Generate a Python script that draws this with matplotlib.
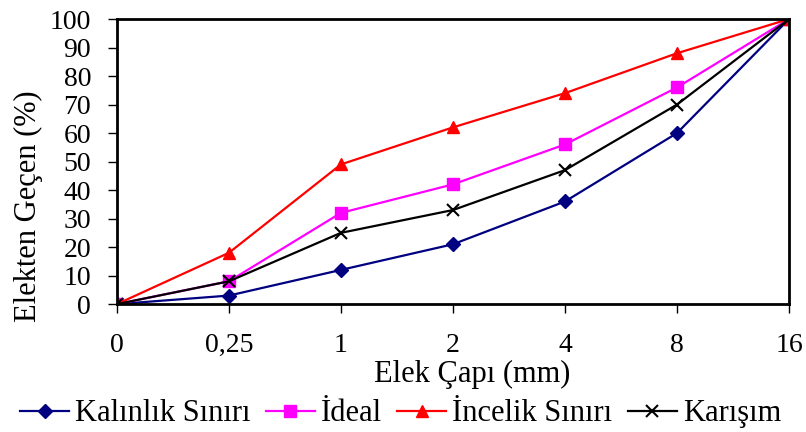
import matplotlib
matplotlib.use("Agg")
import matplotlib.pyplot as plt
import numpy as np

plt.rcParams['font.family'] = ['Liberation Serif', 'DejaVu Serif']

# sieve sizes (categorical axis)
elek = ["0", "0,25", "1", "2", "4", "8", "16"]

kalinlik = [0, 3, 12, 21, 36, 60, 100]
ideal = [0, 8, 32, 42, 56, 76, 100]
incelik = [0, 18, 49, 62, 74, 88, 100]
karisim = [0, 8, 25, 33, 47, 70, 100]

x = np.arange(len(elek))

fig = plt.figure(figsize=(8.06, 4.32), dpi=100)
ax = fig.add_axes([0.145, 0.296, 0.834, 0.66])

ax.plot(x, kalinlik, '-D', color='#000080', lw=1.6, ms=7, label='Kalınlık Sınırı')
ax.plot(x, ideal, '-s', color='#FF00FF', lw=1.6, ms=8, label='İdeal')
ax.plot(x, incelik, '-^', color='#FF0000', lw=1.6, ms=8, label='İncelik Sınırı')
ax.plot(x, karisim, '-x', color='black', lw=1.6, ms=9, mew=1.5, label='Karışım')

ax.set_xlim(0, len(elek) - 1)
ax.set_ylim(0, 100)
ax.set_xticks(x)
ax.set_xticklabels(elek)
ax.set_yticks(np.arange(0, 101, 10))
ax.tick_params(labelsize=20, direction='out', length=6.5, width=1, pad=14)
ax.tick_params(axis='y', pad=12)
for s in ax.spines.values():
    s.set_linewidth(2)

ax.set_xlabel('Elek Çapı (mm)', fontsize=22)
ax.set_ylabel('Elekten Geçen (%)', fontsize=22)
ax.xaxis.set_label_coords(0.528, -0.195)
ax.yaxis.set_label_coords(-0.11, 0.344)

leg = ax.legend(loc='center', ncol=4, frameon=False, fontsize=22, handlelength=1.6,
                handletextpad=0.2, columnspacing=0.5, borderpad=0, borderaxespad=0)
leg.set_bbox_to_anchor((0.497, 0.042), transform=fig.transFigure)

fig.savefig('out.png', dpi=100)
